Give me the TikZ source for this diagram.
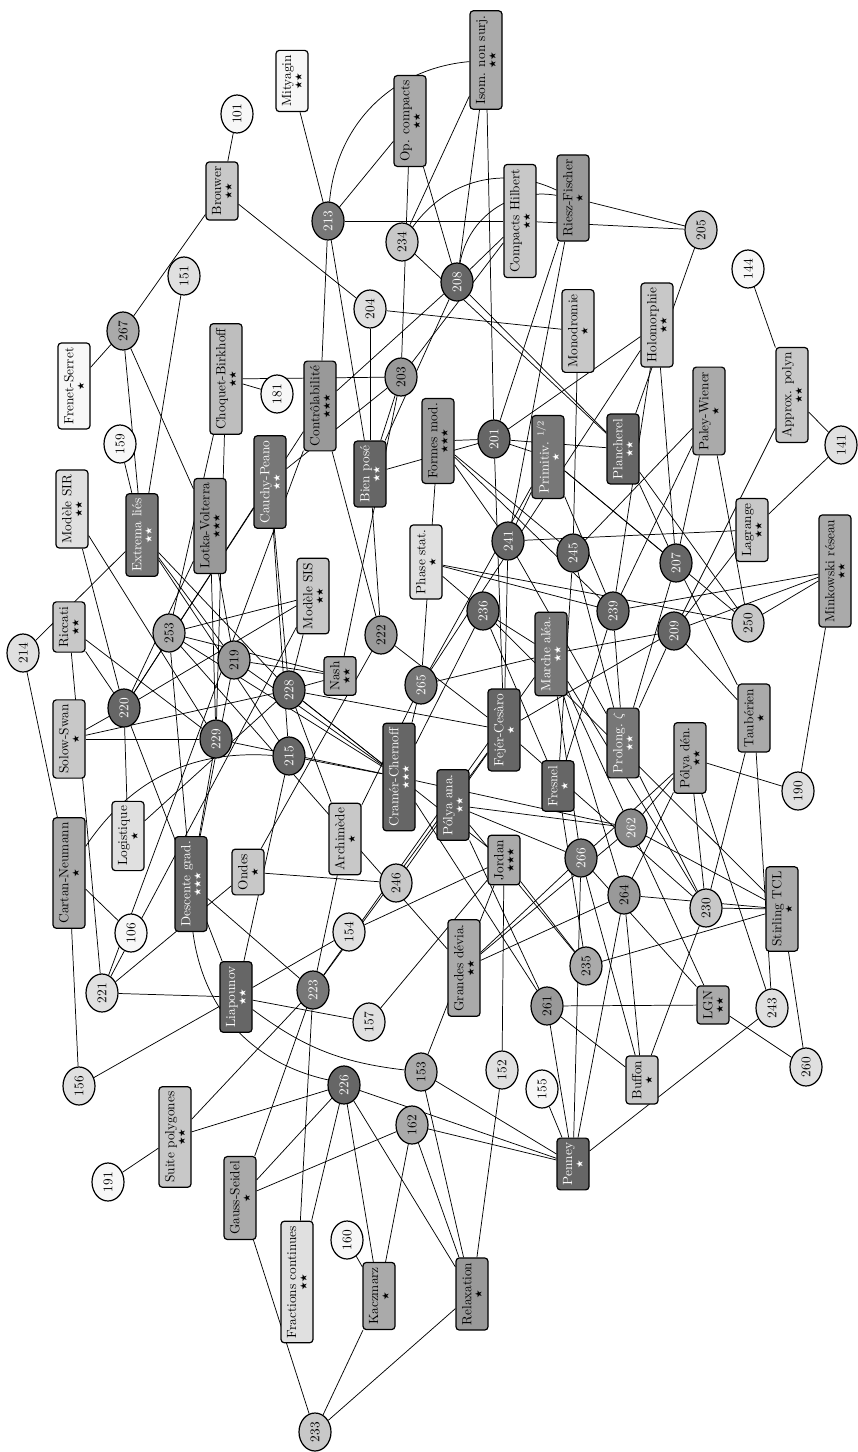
\documentclass[tikz,border=0pt]{standalone}
\usepackage{fontspec}
\newfontfamily\symf{DejaVu Sans}
\usetikzlibrary{shapes.geometric}
\pgfdeclarelayer{background}
\pgfsetlayers{background,main}
\newcommand{\stz}[1]{{\symf\fontsize{7}{7}\selectfont\kern-0.5pt #1}}
\definecolor{cw}{HTML}{F7F7F7}
\definecolor{cl}{HTML}{E0E0E0}
\definecolor{cg}{HTML}{C8C8C8}
\definecolor{cm}{HTML}{AAAAAA}
\definecolor{cd}{HTML}{999999}
\definecolor{ce}{HTML}{888888}
\definecolor{ck}{HTML}{777777}
\definecolor{cx}{HTML}{666666}
\tikzset{
 dev/.style={draw, line width=0.9pt, rounded corners=2.5pt, rotate=90, minimum height=24pt, inner xsep=3.5pt, inner ysep=0.5pt, align=center},
 lec/.style={draw, line width=0.9pt, ellipse, rotate=90, minimum width=28.5pt, minimum height=24pt, inner sep=0pt},
 dk/.style={text=white},
 ln/.style={line width=0.55pt},
}
\begin{document}
\begin{tikzpicture}[x=0.75pt,y=-0.75pt]
\useasboundingbox (0,0) rectangle (857,1452);
% developments
\node[dev,fill=cw] (mity) at (292,81) {Mityagin\\[-4pt]\stz{★★}};
\node[dev,fill=cg] (brou) at (222,191) {Brouwer\\[-4pt]\stz{★★}};
\node[dev,fill=cm] (opc) at (410,121) {Op. compacts\\[-4pt]\stz{★★}};
\node[dev,fill=cm] (isom) at (486,60) {Isom. non surj.\\[-4pt]\stz{★★}};
\node[dev,fill=cd] (rf) at (573,198) {Riesz-Fischer\\[-4pt]\stz{★}};
\node[dev,fill=cg] (ch) at (520,221) {Compacts Hilbert\\[-4pt]\stz{★★}};
\node[dev,fill=cw] (fs) at (74,386) {Frenet-Serret\\[-4pt]\stz{★}};
\node[dev,fill=cl] (sir) at (72,509) {Modèle SIR\\[-4pt]\stz{★★}};
\node[dev,fill=ck,dk] (el) at (142,535) {Extrema liés\\[-4pt]\stz{★★}};
\node[dev,fill=cd] (lv) at (210,526) {Lotka-Volterra\\[-4pt]\stz{★★★}};
\node[dev,fill=cg!95!black] (cb) at (226,379) {Choquet-Birkhoff\\[-4pt]\stz{★★}};
\node[dev,fill=ck,dk] (cp) at (270,482) {Cauchy-Peano\\[-4pt]\stz{★★}};
\node[dev,fill=cd] (ctrl) at (320,406) {Contrôlabilité\\[-4pt]\stz{★★★}};
\node[dev,fill=cx,dk] (bp) at (370,474) {Bien posé\\[-4pt]\stz{★★}};
\node[dev,fill=cd] (fm) at (438,441) {Formes mod.\\[-4pt]\stz{★★★}};
\node[dev,fill=cl] (ps) at (426,562) {Phase stat.\\[-4pt]\stz{★}};
\node[dev,fill=cg] (sis) at (313,596) {Modèle SIS\\[-4pt]\stz{★★}};
\node[dev,fill=cg] (mono) at (578,331) {Monodromie\\[-4pt]\stz{★}};
\node[dev,fill=cg] (holo) at (657,325) {Holomorphie\\[-4pt]\stz{★★}};
\node[dev,fill=ck,dk] (prim) at (548,457) {Primitiv.\ $^{1/2}$\\[-4pt]\stz{★}};
\node[dev,fill=cx,dk] (planch) at (623,449) {Plancherel\\[-4pt]\stz{★★}};
\node[dev,fill=cm] (pw) at (709,411) {Paley-Wiener\\[-4pt]\stz{★}};
\node[dev,fill=cg] (ap) at (792,395) {Approx. polyn\\[-4pt]\stz{★★}};
\node[dev,fill=cg] (lag) at (752,530) {Lagrange\\[-4pt]\stz{★★}};
\node[dev,fill=cm] (mink) at (835,571) {Minkowski réseau\\[-4pt]\stz{★★}};
\node[dev,fill=cg] (ric) at (69,627) {Riccati\\[-4pt]\stz{★★}};
\node[dev,fill=cm] (nash) at (340,676) {Nash\\[-4pt]\stz{★★}};
\node[dev,fill=cg] (ss) at (69,739) {Solow-Swan\\[-4pt]\stz{★}};
\node[dev,fill=cx,dk] (cc) at (399,777) {Cramér-Chernoff\\[-4pt]\stz{★★★}};
\node[dev,fill=cm] (cn) at (69,873) {Cartan-Neumann\\[-4pt]\stz{★}};
\node[dev,fill=cl] (logi) at (128,836) {Logistique\\[-4pt]\stz{★}};
\node[dev,fill=cx,dk] (dg) at (191,884) {Descente grad.\\[-4pt]\stz{★★★}};
\node[dev,fill=cg] (ondes) at (248,872) {Ondes\\[-4pt]\stz{★}};
\node[dev,fill=cg] (arch) at (345,839) {Archimède\\[-4pt]\stz{★}};
\node[dev,fill=ck,dk] (ma) at (551,654) {Marche aléa.\\[-4pt]\stz{★★}};
\node[dev,fill=cx,dk] (fc) at (504,730) {Fejér-Cesàro\\[-4pt]\stz{★}};
\node[dev,fill=ck,dk] (pz) at (623,743) {Prolong.\ $\zeta$\\[-4pt]\stz{★★}};
\node[dev,fill=cm] (taub) at (754,718) {Taubérien\\[-4pt]\stz{★}};
\node[dev,fill=cx,dk] (pa) at (453,805) {Pólya ana.\\[-4pt]\stz{★★}};
\node[dev,fill=cx,dk] (fres) at (558,786) {Fresnel\\[-4pt]\stz{★}};
\node[dev,fill=cm] (pd) at (690,758) {Pólya dén.\\[-4pt]\stz{★★}};
\node[dev,fill=cm] (jord) at (504,860) {Jordan\\[-4pt]\stz{★★★}};
\node[dev,fill=cx,dk] (liap) at (236,997) {Liapounov\\[-4pt]\stz{★★}};
\node[dev,fill=cg] (sp) at (175,1137) {Suite polygones\\[-4pt]\stz{★★}};
\node[dev,fill=cm] (gs) at (240,1198) {Gauss-Seidel\\[-4pt]\stz{★}};
\node[dev,fill=cm] (stir) at (782,909) {Stirling TCL\\[-4pt]\stz{★}};
\node[dev,fill=cm] (gd) at (464,968) {Grandes dévia.\\[-4pt]\stz{★★}};
\node[dev,fill=cm] (lgn) at (713,1005) {LGN\\[-4pt]\stz{★★}};
\node[dev,fill=cg] (buf) at (642,1080) {Buffon\\[-4pt]\stz{★}};
\node[dev,fill=cx,dk] (pen) at (573,1164) {Penney\\[-4pt]\stz{★}};
\node[dev,fill=cl] (frac) at (297,1282) {Fractions continues\\[-4pt]\stz{★★}};
\node[dev,fill=cm] (kac) at (379,1296) {Kaczmarz\\[-4pt]\stz{★}};
\node[dev,fill=cd] (relax) at (472,1294) {Relaxation\\[-4pt]\stz{★}};
% lecons
\node[lec,fill=cw] (n101) at (237,114) {101};
\node[lec,fill=ck,dk] (n213) at (328,221) {213};
\node[lec,fill=cg] (n234) at (402,242) {234};
\node[lec,fill=cl] (n151) at (184,276) {151};
\node[lec,fill=cg] (n205) at (701,230) {205};
\node[lec,fill=cw] (n144) at (748,269) {144};
\node[lec,fill=cx,dk] (n208) at (457,282) {208};
\node[lec,fill=cm] (n267) at (123,331) {267};
\node[lec,fill=cw] (n159) at (120,444) {159};
\node[lec,fill=cw] (n181) at (277,394) {181};
\node[lec,fill=cd] (n203) at (401,377) {203};
\node[lec,fill=cl] (n204) at (370,309) {204};
\node[lec,fill=cx,dk] (n201) at (494,439) {201};
\node[lec,fill=cl] (n141) at (841,445) {141};
\node[lec,fill=cx,dk] (n241) at (508,541) {241};
\node[lec,fill=cx,dk] (n245) at (573,553) {245};
\node[lec,fill=cx,dk] (n207) at (676,563) {207};
\node[lec,fill=cl] (n214) at (23,653) {214};
\node[lec,fill=cm] (n253) at (169,633) {253};
\node[lec,fill=cd] (n219) at (234,660) {219};
\node[lec,fill=cx,dk] (n228) at (289,690) {228};
\node[lec,fill=cd] (n222) at (381,635) {222};
\node[lec,fill=ck,dk] (n265) at (421,685) {265};
\node[lec,fill=cx,dk] (n220) at (124,708) {220};
\node[lec,fill=cx,dk] (n229) at (216,739) {229};
\node[lec,fill=cx,dk] (n215) at (289,756) {215};
\node[lec,fill=cx,dk] (n236) at (483,611) {236};
\node[lec,fill=cx,dk] (n239) at (613,611) {239};
\node[lec,fill=cx,dk] (n209) at (674,631) {209};
\node[lec,fill=cg] (n250) at (748,623) {250};
\node[lec,fill=cl] (n190) at (798,791) {190};
\node[lec,fill=ce,dk] (n262) at (631,828) {262};
\node[lec,fill=ck,dk] (n266) at (581,858) {266};
\node[lec,fill=cg] (n246) at (396,883) {246};
\node[lec,fill=cw] (n106) at (131,933) {106};
\node[lec,fill=cl] (n154) at (349,932) {154};
\node[lec,fill=cl] (n221) at (102,993) {221};
\node[lec,fill=ck,dk] (n223) at (313,990) {223};
\node[lec,fill=cl] (n157) at (369,1022) {157};
\node[lec,fill=cl] (n156) at (79,1086) {156};
\node[lec,fill=cx,dk] (n226) at (344,1085) {226};
\node[lec,fill=cm] (n153) at (421,1072) {153};
\node[lec,fill=cm] (n162) at (412,1125) {162};
\node[lec,fill=cd] (n264) at (624,895) {264};
\node[lec,fill=cg] (n230) at (706,908) {230};
\node[lec,fill=cm] (n235) at (586,966) {235};
\node[lec,fill=cd] (n261) at (547,1006) {261};
\node[lec,fill=cl] (n243) at (772,1008) {243};
\node[lec,fill=cl] (n152) at (502,1070) {152};
\node[lec,fill=cw] (n155) at (542,1089) {155};
\node[lec,fill=cl] (n260) at (806,1067) {260};
\node[lec,fill=cw] (n191) at (108,1182) {191};
\node[lec,fill=cw] (n160) at (347,1240) {160};
\node[lec,fill=cg] (n233) at (315,1432) {233};
% connectors
\begin{pgfonlayer}{background}
\foreach \a/\b in {n101/brou, n267/brou, n204/brou, n213/mity, n213/opc, n213/ch, n213/ctrl, n213/bp,
n234/isom, n234/planch, n203/opc, n208/opc, n208/isom, n201/isom, n205/rf, n201/rf, n241/rf, n205/ch, n208/ch, n203/ch, n205/planch,
n267/fs, n267/el, n267/lv, n159/el, n151/el, n253/cb, n181/cb, n203/cb, n229/cb,
n204/mono, n204/bp, n201/fm, n201/prim, n201/holo, n201/bp, n201/planch, n201/fc,
n203/bp, n203/cp, n203/nash, n208/planch, n208/bp, n208/ctrl,
n207/holo, n207/prim, n207/planch, n207/pw, n207/pz, n207/taub,
n209/ap, n209/lag, n209/fc, n209/taub, n209/ma, n209/pz, n209/mink,
n141/ap, n141/lag, n144/ap, n190/pd, n190/mink, n214/el, n214/cn,
n215/cp, n215/liap, n215/cc, n215/el,
n219/el, n219/dg, n219/nash, n219/lv, n219/cc,
n220/sir, n220/ric, n220/ss, n220/logi, n220/lv, n220/cp, n220/liap, n220/sis, n220/ctrl,
n221/ondes, n221/liap, n221/ric, n221/ctrl, n221/sis,
n222/ondes, n222/bp, n222/ctrl, n222/fc,
n223/dg, n223/arch, n223/sp, n223/frac, n223/gs, n223/fc, n223/ma,
n226/sp, n226/gs, n226/kac, n226/relax, n226/frac, n226/pen,
n228/logi, n228/cp, n228/cc, n228/jord, n228/fc, n228/sis, n228/nash, n228/arch, n228/ss, n228/el,
n229/ss, n229/ric, n229/cc, n229/dg, n229/lv, n229/sir,
n230/pd, n230/buf, n230/taub, n230/pz, n230/fc, n230/stir, n230/ma,
n233/gs, n233/kac, n233/relax,
n235/fres, n235/stir, n235/jord, n235/pa,
n236/fres, n236/ps, n236/ma, n236/cc, n236/stir,
n239/prim, n239/holo, n239/fres, n239/pz, n239/ps, n239/fm, n239/mink, n239/pw,
n241/fm, n241/fc, n241/pz, n241/prim, n241/lag,
n243/taub, n243/pd, n243/pen,
n245/mono, n245/fm, n245/pz, n245/fres, n245/pw,
n246/ondes, n246/fc,
n250/pw, n250/planch, n250/mink, n250/prim, n250/ps,
n253/dg, n253/sis, n253/nash, n253/cc, n253/gd,
n260/stir, n260/lgn,
n261/lgn, n261/buf, n261/pen, n261/pa, n261/cc,
n262/lgn, n262/pa, n262/ma, n262/stir, n262/gd, n262/cc, n262/pd,
n264/gd, n264/pen, n264/buf, n264/ma, n264/pd, n264/stir,
n265/fm, n265/arch, n265/holo, n265/prim, n265/ma, n265/cc,
n266/pen, n266/pd, n266/lgn, n266/buf, n266/ma, n266/gd, n266/pa,
n106/cn, n156/cn, n156/liap,
n153/relax, n153/pen, n153/jord,
n154/liap, n154/jord, n155/pen, n157/liap, n157/jord,
n152/relax, n152/jord, n160/kac,
n162/gs, n162/kac, n162/relax, n162/pen, n191/sp}
  \draw[ln] (\a) -- (\b);
\draw[ln] (n213) to[bend left=40] (isom);
\draw[ln] (n234) to[bend left=40] (rf);
\draw[ln] (n208) to[bend left=45] (rf);
\draw[ln] (dg) to[bend right=35] (n226);
\draw[ln] (cn) to[bend left=30] (n215);
\draw[ln] (liap) to[bend right=15] (n153);
\end{pgfonlayer}
\end{tikzpicture}
\end{document}
